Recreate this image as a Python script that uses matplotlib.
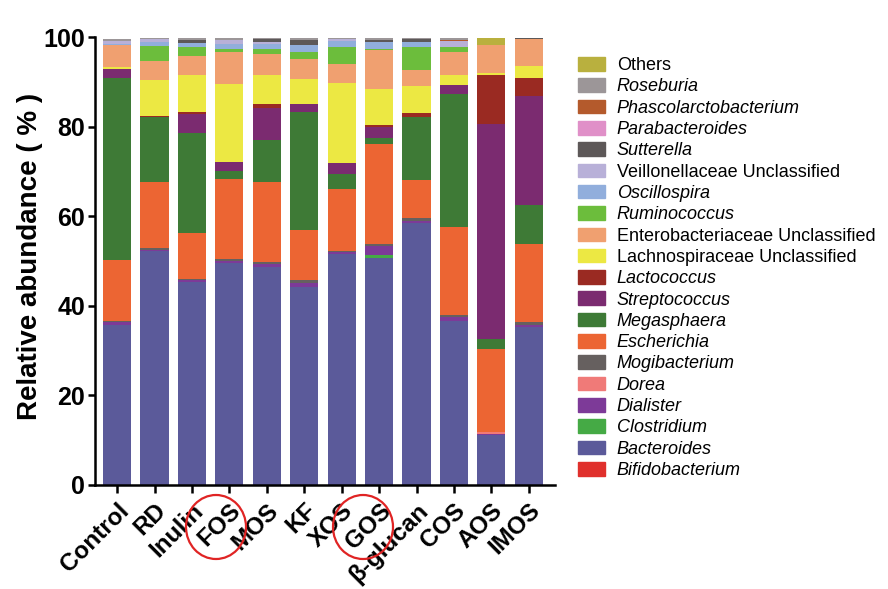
import numpy as np
import matplotlib
matplotlib.use("Agg")
import matplotlib.pyplot as plt
import matplotlib.patches as mpatches

# Groups on the x axis
groups = ["Control", "RD", "Inulin", "FOS", "MOS", "KF", "XOS", "GOS",
          "β-glucan", "COS", "AOS", "IMOS"]

# Relative abundance (%) per genus (bottom -> top)
bifidobacterium       = [0.0, 0.0, 0.0, 0.0, 0.0, 0.0, 0.0, 0.0, 0.0, 0.0, 0.0, 0.0]
bacteroides           = [35.8, 52.3, 45.4, 49.7, 48.8, 44.3, 51.7, 50.8, 58.6, 36.7, 11.1, 35.3]
clostridium           = [0.0, 0.0, 0.0, 0.0, 0.0, 0.0, 0.0, 0.5, 0.0, 0.0, 0.0, 0.0]
dialister             = [0.6, 0.3, 0.3, 0.4, 0.5, 0.9, 0.3, 2.0, 0.4, 0.8, 0.3, 0.5]
dorea                 = [0.0, 0.0, 0.0, 0.0, 0.0, 0.0, 0.0, 0.0, 0.0, 0.0, 0.5, 0.0]
mogibacterium         = [0.2, 0.4, 0.3, 0.4, 0.5, 0.7, 0.3, 0.5, 0.6, 0.5, 0.0, 0.5]
escherichia           = [13.7, 14.7, 10.4, 17.9, 17.9, 11.1, 13.8, 22.4, 8.6, 19.7, 18.4, 17.6]
megasphaera           = [40.6, 14.5, 22.3, 1.8, 9.4, 26.3, 3.4, 1.3, 14.0, 29.6, 2.2, 8.7]
streptococcus         = [2.1, 0.0, 4.2, 2.0, 7.1, 1.8, 2.4, 2.5, 0.0, 2.0, 48.1, 24.3]
lactococcus           = [0.0, 0.3, 0.4, 0.0, 0.8, 0.0, 0.0, 0.5, 0.9, 0.0, 10.9, 4.0]
lachnospiraceae_uncl  = [0.4, 7.9, 8.2, 17.3, 6.5, 5.5, 17.9, 7.9, 6.0, 2.2, 0.5, 2.6]
enterobacteriaceae_uncl = [4.9, 4.3, 4.3, 7.2, 4.7, 4.5, 4.2, 8.7, 3.6, 5.2, 6.4, 6.1]
ruminococcus          = [0.0, 3.3, 2.0, 0.6, 1.2, 1.6, 3.8, 0.2, 5.1, 1.2, 0.0, 0.0]
oscillospira          = [0.3, 1.0, 1.0, 1.2, 1.1, 1.7, 1.3, 1.6, 1.2, 0.0, 0.0, 0.0]
veillonellaceae_uncl  = [0.6, 0.6, 0.0, 1.0, 0.5, 0.0, 0.5, 0.0, 0.0, 1.3, 0.0, 0.0]
sutterella            = [0.0, 0.0, 0.6, 0.0, 0.6, 1.1, 0.0, 0.6, 0.6, 0.0, 0.0, 0.3]
parabacteroides       = [0.0, 0.0, 0.0, 0.0, 0.0, 0.0, 0.0, 0.0, 0.0, 0.0, 0.0, 0.0]
phascolarctobacterium = [0.0, 0.0, 0.0, 0.0, 0.0, 0.0, 0.0, 0.0, 0.0, 0.3, 0.0, 0.0]
roseburia             = [0.5, 0.3, 0.5, 0.4, 0.3, 0.4, 0.3, 0.4, 0.3, 0.4, 0.0, 0.0]
others                = [0.0, 0.0, 0.0, 0.0, 0.0, 0.0, 0.0, 0.0, 0.0, 0.0, 1.4, 0.0]

# (label, values, colour, italic) from bottom of the stack to the top
taxa = [
    ("Bifidobacterium",               bifidobacterium,        "#e0302c", True),
    ("Bacteroides",                   bacteroides,            "#5b5a9a", True),
    ("Clostridium",                   clostridium,            "#45aa45", True),
    ("Dialister",                     dialister,              "#7d3a98", True),
    ("Dorea",                         dorea,                  "#f07a78", True),
    ("Mogibacterium",                 mogibacterium,          "#66605f", True),
    ("Escherichia",                   escherichia,            "#ec6533", True),
    ("Megasphaera",                   megasphaera,            "#3e7a36", True),
    ("Streptococcus",                 streptococcus,          "#7b2b70", True),
    ("Lactococcus",                   lactococcus,            "#9a2a22", True),
    ("Lachnospiraceae Unclassified",  lachnospiraceae_uncl,   "#ece843", False),
    ("Enterobacteriaceae Unclassified", enterobacteriaceae_uncl, "#f0a070", False),
    ("Ruminococcus",                  ruminococcus,           "#6cbd3c", True),
    ("Oscillospira",                  oscillospira,           "#91aedc", True),
    ("Veillonellaceae Unclassified",  veillonellaceae_uncl,   "#b8b0d8", False),
    ("Sutterella",                    sutterella,             "#5d5858", True),
    ("Parabacteroides",               parabacteroides,        "#e090c8", True),
    ("Phascolarctobacterium",         phascolarctobacterium,  "#b45a2c", True),
    ("Roseburia",                     roseburia,              "#9c9698", True),
    ("Others",                        others,                 "#b9b03e", False),
]

# Style
plt.rcParams.update({
    "font.family": ["Liberation Sans", "DejaVu Sans"],
    "axes.linewidth": 1.8,
})

fig = plt.figure(figsize=(8.88, 5.89), dpi=100)
ax = fig.add_axes([0.107, 0.1766, 0.518, 0.760])

x = np.arange(len(groups))
bottom = np.zeros(len(groups))
handles = []
for name, vals, color, ital in taxa:
    vals = np.array(vals)
    ax.bar(x, vals, width=0.75, bottom=bottom, color=color, edgecolor="none")
    bottom += vals
    handles.append(mpatches.Patch(color=color, label=name))

ax.set_xlim(-0.59, 11.7)
ax.set_ylim(0, 100)
ax.set_yticks([0, 20, 40, 60, 80, 100])
ax.set_xticks(x)
ax.set_xticklabels(groups, rotation=45, ha="right", rotation_mode="anchor",
                   fontsize=17.5, fontweight="bold")
for lab in ax.get_yticklabels():
    lab.set_fontsize(18)
    lab.set_fontweight("bold")
ax.tick_params(axis="both", direction="out", length=5, width=1.8, pad=2)
ax.tick_params(axis="x", length=6, pad=4)
ax.set_ylabel("Relative abundance ( % )", fontsize=20, fontweight="bold")
ax.yaxis.set_label_coords(-0.113, 0.51)
for s in ["top", "right"]:
    ax.spines[s].set_visible(False)

# Legend, top entry first
leg = fig.legend(handles=handles[::-1], loc="upper left",
                 bbox_to_anchor=(578 / 888, 1 - 57 / 589),
                 frameon=False, fontsize=13, borderpad=0, borderaxespad=0,
                 handlelength=1.5, handleheight=0.78, handletextpad=0.65,
                 labelspacing=0.235)
for txt, (name, vals, color, ital) in zip(leg.get_texts(), taxa[::-1]):
    if ital:
        txt.set_fontstyle("italic")

# red circles highlighting FOS and GOS
for cx in (216, 363):
    fig.add_artist(mpatches.Ellipse((cx / 888, 1 - 527 / 589),
                                    60 / 888, 64 / 589,
                                    transform=fig.transFigure, fill=False,
                                    edgecolor="#e02424", linewidth=1.6))

fig.savefig("out.png", dpi=100)
